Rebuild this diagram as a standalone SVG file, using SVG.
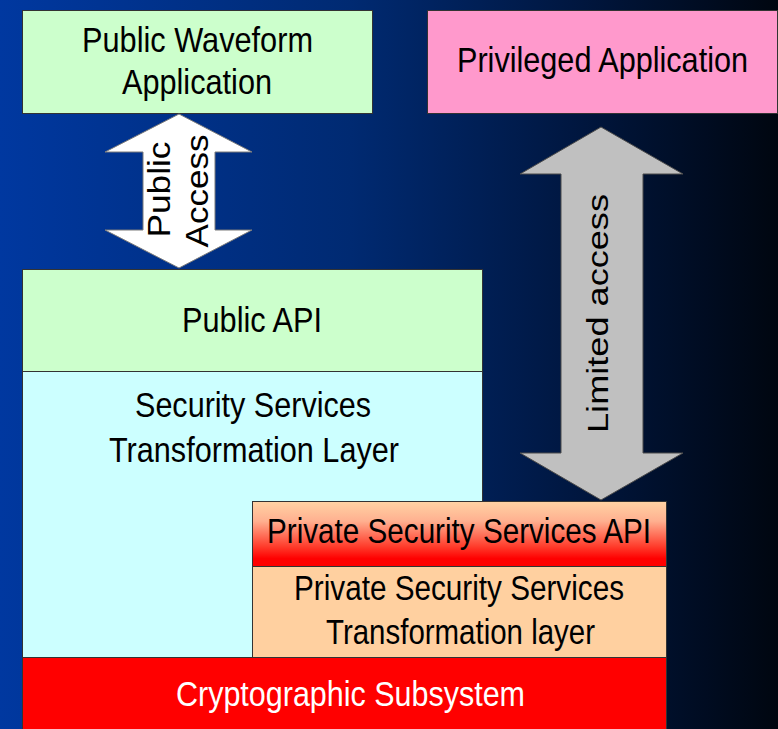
<svg xmlns="http://www.w3.org/2000/svg" width="778" height="729" viewBox="0 0 778 729">
  <defs>
    <linearGradient id="bg" x1="0" y1="0" x2="1" y2="0">
      <stop offset="0" stop-color="#0038a0"/>
      <stop offset="0.45" stop-color="#002a72"/>
      <stop offset="0.75" stop-color="#00163e"/>
      <stop offset="1" stop-color="#000610"/>
    </linearGradient>
    <linearGradient id="apiGrad" x1="0" y1="0" x2="0" y2="1">
      <stop offset="0" stop-color="#ffd3a4"/>
      <stop offset="0.3" stop-color="#ffb090"/>
      <stop offset="0.7" stop-color="#ff3a2a"/>
      <stop offset="0.88" stop-color="#ff0000"/>
    </linearGradient>
    <style>
      .box { stroke: #333333; stroke-width: 1; }
      .t { font-family: "Liberation Sans", Arial, sans-serif; font-size: 35px; text-anchor: middle; fill: #000000; }
      .tr { font-family: "Liberation Sans", Arial, sans-serif; text-anchor: middle; fill: #000000; }
      .w { fill: #ffffff; }
    </style>
  </defs>

  <rect x="0" y="0" width="778" height="729" fill="url(#bg)"/>

  <g id="public-waveform-application">
    <rect class="box" x="22.5" y="10.5" width="350" height="103" fill="#ccffcc"/>
    <text class="t" x="197.5" y="52" textLength="231" lengthAdjust="spacingAndGlyphs">Public Waveform</text>
    <text class="t" x="197" y="94" textLength="150" lengthAdjust="spacingAndGlyphs">Application</text>
  </g>

  <g id="privileged-application">
    <rect class="box" x="427.5" y="10.5" width="350" height="103" fill="#ff99cc"/>
    <text class="t" x="602.5" y="72" textLength="291" lengthAdjust="spacingAndGlyphs">Privileged Application</text>
  </g>

  <g id="security-services-transformation-layer">
    <rect class="box" x="22.5" y="371.5" width="460" height="287" fill="#ccffff"/>
    <text class="t" x="253" y="417" textLength="236" lengthAdjust="spacingAndGlyphs">Security Services</text>
    <text class="t" x="254" y="462" textLength="290" lengthAdjust="spacingAndGlyphs">Transformation Layer</text>
  </g>

  <g id="public-api">
    <rect class="box" x="22.5" y="269.5" width="460" height="102" fill="#ccffcc"/>
    <text class="t" x="252" y="332" textLength="140" lengthAdjust="spacingAndGlyphs">Public API</text>
  </g>

  <g id="private-security-services-api">
    <rect class="box" x="252.5" y="501.5" width="414" height="65" fill="url(#apiGrad)"/>
    <text class="t" x="459" y="543" textLength="384" lengthAdjust="spacingAndGlyphs">Private Security Services API</text>
  </g>

  <g id="private-security-services-transformation-layer">
    <rect class="box" x="252.5" y="566.5" width="414" height="91" fill="#ffd0a0"/>
    <text class="t" x="459" y="600" textLength="330" lengthAdjust="spacingAndGlyphs">Private Security Services</text>
    <text class="t" x="460.5" y="644" textLength="269" lengthAdjust="spacingAndGlyphs">Transformation layer</text>
  </g>

  <g id="cryptographic-subsystem">
    <rect class="box" x="22.5" y="657.5" width="644" height="75" fill="#ff0000"/>
    <text class="t w" x="350.5" y="706" textLength="349" lengthAdjust="spacingAndGlyphs">Cryptographic Subsystem</text>
  </g>

  <g id="connectors">
    <g id="public-access">
      <polygon points="179,114 252,152 215,152 215,230 252,230 179,268 105,230 143,230 143,152 105,152" fill="#ffffff" stroke="#7a7a7a" stroke-width="1"/>
      <text class="tr" font-size="31" transform="translate(170,189.5) rotate(-90)" textLength="96" lengthAdjust="spacingAndGlyphs">Public</text>
      <text class="tr" font-size="31" transform="translate(207.5,191) rotate(-90)" textLength="113" lengthAdjust="spacingAndGlyphs">Access</text>
    </g>
    <g id="limited-access">
      <polygon points="601,127 683,174 643,174 643,453 683,453 601,500 520,453 561,453 561,174 520,174" fill="#c0c0c0" stroke="#4a4a4a" stroke-width="1"/>
      <text class="tr" font-size="30" transform="translate(608,313.5) rotate(-90)" textLength="239" lengthAdjust="spacingAndGlyphs">Limited access</text>
    </g>
  </g>
</svg>
